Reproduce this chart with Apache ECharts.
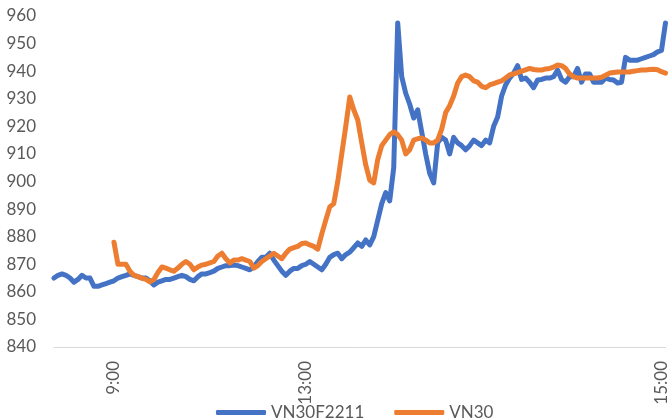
<!DOCTYPE html>
<html>
<head>
<meta charset="utf-8">
<script src="https://cdn.jsdelivr.net/npm/echarts@6/dist/echarts.min.js"></script>
<style>
html,body{margin:0;padding:0;background:#fff;}
#chart{width:670px;height:419px;}
</style>
</head>
<body>
<div id="chart"></div>
<script>
// Series names
const seriesNames = ['VN30F2211', 'VN30'];

// Tick labels on the time axis and the sample index where they fall
const timeLabels = ['9:00', '13:00', '15:00'];
const timeLabelIdx = [15, 63, 152];

// Y axis ticks
const yTicks = [840, 850, 860, 870, 880, 890, 900, 910, 920, 930, 940, 950, 960];

// VN30F2211 (futures) values, one per sample
const vn30f = [
865, 866, 866.5, 866, 865, 863.5, 864.5, 866, 865, 865,
862, 862, 862.5, 863, 863.5, 864, 865, 865.5, 866, 866.5,
866, 865.5, 865, 865, 864, 862.5, 863.5, 864, 864.5, 864.5,
865, 865.5, 866, 865.5, 864.5, 864, 865.5, 866.5, 866.5, 867,
867.5, 868.5, 869, 869.5, 869.5, 869.7, 869.5, 869, 868.5, 868,
869, 871, 872.5, 872.5, 874, 871.5, 869.5, 867.5, 866, 867.5,
868.5, 868.5, 869.5, 870, 871, 870, 869, 868, 870, 872.5,
873.5, 874, 872, 873.5, 874.4, 876, 877.7, 876.5, 878.8, 877,
880, 886, 892, 896, 893, 905, 957.5, 938, 932, 928,
923, 926, 918, 910, 903, 899.5, 914, 916, 915, 910,
916, 914, 913, 911.5, 913, 915, 914, 913, 915, 914,
920, 923.4, 931, 935, 937.5, 939.3, 942, 937, 937.5, 936,
934, 936.8, 937, 937.5, 937.5, 938, 940.4, 937, 936, 938,
938, 941, 936, 939, 939, 936, 936, 936, 937.5, 937,
936.8, 935.7, 936, 945, 944, 944, 944, 944.5, 945, 945.5,
946, 947, 947.5, 957.5
];

// VN30 (index) values, starting at 9:00
const vn30 = [
null, null, null, null, null, null, null, null, null, null,
null, null, null, null, null, 878, 870, 870, 870, 867.5,
866, 865.5, 865, 864.5, 863.6, 864.5, 867, 869, 868.6, 868,
867.5, 868.6, 870, 871, 870, 868, 869, 869.7, 870, 870.5,
871, 873, 874, 872, 870.5, 871.5, 871.5, 872, 871.5, 871,
868.6, 869.5, 871, 872, 873, 874, 873, 872, 874, 875.5,
876, 876.5, 877.5, 877.7, 877, 876.5, 875.5, 881, 886, 890.8,
892, 900, 910, 920, 930.6, 926, 922.3, 914, 906, 900.5,
899.5, 908, 913, 915, 917, 918, 917, 915, 910, 911.5,
915, 915.5, 915.8, 915, 914, 914, 915, 919, 925, 927.5,
931, 935.7, 938, 938.6, 938, 936.5, 936, 934.5, 934, 935,
935.5, 936, 936.5, 937.5, 938.6, 939, 939.5, 940, 940.5, 941,
940.6, 940.4, 940.4, 940.8, 941, 941.5, 942.2, 942, 941, 939,
938, 937.5, 937.5, 937.5, 937.5, 937.5, 937.5, 937.8, 938.5, 939.3,
939.5, 939.7, 939.7, 939.7, 939.7, 940, 940.2, 940.4, 940.4, 940.6,
940.7, 940.5, 939.8, 939.3
];

const categories = vn30f.map((_, i) => String(i));

const chart = echarts.init(document.getElementById('chart'), null, {renderer: 'canvas'});
const FONT = 'Lato';
const TXT = '#595959';

chart.setOption({
  animation: false,
  backgroundColor: '#ffffff',
  grid: {left: 54, right: 4, top: 16, bottom: 72, containLabel: false},
  legend: {
    data: seriesNames,
    left: 211,
    top: 399,
    icon: 'roundRect',
    itemWidth: 50,
    itemHeight: 5,
    itemGap: 30,
    textStyle: {color: TXT, fontFamily: FONT, fontSize: 17}
  },
  xAxis: {
    type: 'category',
    data: categories,
    boundaryGap: false,
    axisLine: {show: true, lineStyle: {color: '#d9d9d9', width: 1}},
    axisTick: {show: false},
    splitLine: {show: false},
    axisLabel: {
      rotate: 90,
      margin: 14,
      color: TXT,
      fontFamily: FONT,
      fontSize: 17,
      interval: (idx) => timeLabelIdx.indexOf(idx) >= 0,
      formatter: (val, idx) => {
        const k = timeLabelIdx.indexOf(Number(val));
        return k >= 0 ? timeLabels[k] : '';
      }
    }
  },
  yAxis: {
    type: 'value',
    min: yTicks[0],
    max: yTicks[yTicks.length - 1],
    interval: yTicks[1] - yTicks[0],
    axisLine: {show: false},
    axisTick: {show: false},
    splitLine: {show: false},
    axisLabel: {color: TXT, fontFamily: FONT, fontSize: 17, margin: 18}
  },
  series: [
    {
      name: seriesNames[0],
      type: 'line',
      data: vn30f,
      showSymbol: false,
      symbol: 'none',
      color: '#4472C4',
      lineStyle: {width: 5, color: '#4472C4', cap: 'round', join: 'round'}
    },
    {
      name: seriesNames[1],
      type: 'line',
      data: vn30,
      showSymbol: false,
      symbol: 'none',
      color: '#ED7D31',
      lineStyle: {width: 5, color: '#ED7D31', cap: 'round', join: 'round'}
    }
  ]
});
</script>
</body>
</html>
